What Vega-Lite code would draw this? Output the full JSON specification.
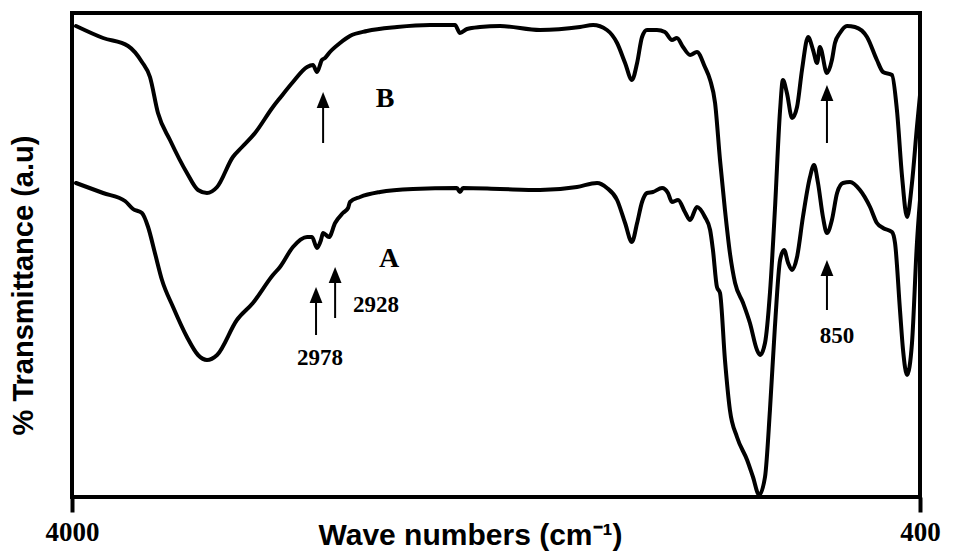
{
  "$schema": "https://vega.github.io/schema/vega-lite/v6.json",
  "width": 848,
  "height": 484,
  "autosize": {"type": "none"},
  "padding": {"left": 72, "top": 13, "right": 33, "bottom": 59},
  "background": "white",
  "config": {"view": {"stroke": "black", "strokeWidth": 4}, "axis": {"grid": false}},
  "datasets": {
    "spectra": [
      {"series":"B","wn":3983,"t":471},{"series":"B","wn":3868,"t":459},{"series":"B","wn":3762,"t":451},{"series":"B","wn":3703,"t":435},{"series":"B","wn":3669,"t":420},{"series":"B","wn":3635,"t":384},{"series":"B","wn":3584,"t":357},{"series":"B","wn":3512,"t":324},{"series":"B","wn":3465,"t":307},{"series":"B","wn":3427,"t":304},{"series":"B","wn":3384,"t":310},{"series":"B","wn":3317,"t":340},{"series":"B","wn":3278,"t":350},{"series":"B","wn":3223,"t":364},{"series":"B","wn":3147,"t":390},{"series":"B","wn":3117,"t":399},{"series":"B","wn":3062,"t":415},{"series":"B","wn":3002,"t":430},{"series":"B","wn":2977,"t":432},{"series":"B","wn":2960,"t":425},{"series":"B","wn":2939,"t":437},{"series":"B","wn":2926,"t":439},{"series":"B","wn":2905,"t":445},{"series":"B","wn":2862,"t":454},{"series":"B","wn":2820,"t":461},{"series":"B","wn":2748,"t":466},{"series":"B","wn":2620,"t":470},{"series":"B","wn":2480,"t":472},{"series":"B","wn":2374,"t":472},{"series":"B","wn":2353,"t":464},{"series":"B","wn":2323,"t":468},{"series":"B","wn":2268,"t":470},{"series":"B","wn":2183,"t":471},{"series":"B","wn":2013,"t":467},{"series":"B","wn":1843,"t":470},{"series":"B","wn":1788,"t":472},{"series":"B","wn":1729,"t":467},{"series":"B","wn":1686,"t":454},{"series":"B","wn":1652,"t":434},{"series":"B","wn":1623,"t":417},{"series":"B","wn":1601,"t":434},{"series":"B","wn":1580,"t":460},{"series":"B","wn":1559,"t":467},{"series":"B","wn":1517,"t":467},{"series":"B","wn":1483,"t":465},{"series":"B","wn":1453,"t":457},{"series":"B","wn":1432,"t":459},{"series":"B","wn":1406,"t":450},{"series":"B","wn":1376,"t":442},{"series":"B","wn":1347,"t":445},{"series":"B","wn":1313,"t":430},{"series":"B","wn":1291,"t":417},{"series":"B","wn":1270,"t":394},{"series":"B","wn":1249,"t":337},{"series":"B","wn":1228,"t":287},{"series":"B","wn":1207,"t":244},{"series":"B","wn":1185,"t":214},{"series":"B","wn":1151,"t":194},{"series":"B","wn":1122,"t":174},{"series":"B","wn":1092,"t":147},{"series":"B","wn":1079,"t":142},{"series":"B","wn":1058,"t":154},{"series":"B","wn":1037,"t":204},{"series":"B","wn":1016,"t":287},{"series":"B","wn":994,"t":387},{"series":"B","wn":982,"t":417},{"series":"B","wn":965,"t":404},{"series":"B","wn":943,"t":379},{"series":"B","wn":922,"t":390},{"series":"B","wn":901,"t":427},{"series":"B","wn":875,"t":460},{"series":"B","wn":854,"t":447},{"series":"B","wn":837,"t":434},{"series":"B","wn":825,"t":450},{"series":"B","wn":795,"t":424},{"series":"B","wn":774,"t":437},{"series":"B","wn":761,"t":454},{"series":"B","wn":740,"t":464},{"series":"B","wn":710,"t":471},{"series":"B","wn":676,"t":470},{"series":"B","wn":625,"t":460},{"series":"B","wn":583,"t":437},{"series":"B","wn":557,"t":425},{"series":"B","wn":519,"t":422},{"series":"B","wn":498,"t":387},{"series":"B","wn":476,"t":320},{"series":"B","wn":455,"t":280},{"series":"B","wn":434,"t":314},{"series":"B","wn":413,"t":370},{"series":"B","wn":400,"t":402},
      {"series":"A","wn":3983,"t":314},{"series":"A","wn":3868,"t":304},{"series":"A","wn":3775,"t":296},{"series":"A","wn":3741,"t":288},{"series":"A","wn":3703,"t":284},{"series":"A","wn":3677,"t":270},{"series":"A","wn":3648,"t":244},{"series":"A","wn":3618,"t":217},{"series":"A","wn":3571,"t":190},{"series":"A","wn":3512,"t":160},{"series":"A","wn":3465,"t":142},{"series":"A","wn":3427,"t":137},{"series":"A","wn":3384,"t":142},{"series":"A","wn":3300,"t":177},{"series":"A","wn":3232,"t":194},{"series":"A","wn":3147,"t":222},{"series":"A","wn":3117,"t":230},{"series":"A","wn":3062,"t":250},{"series":"A","wn":3002,"t":260},{"series":"A","wn":2981,"t":260},{"series":"A","wn":2960,"t":249},{"series":"A","wn":2943,"t":257},{"series":"A","wn":2934,"t":264},{"series":"A","wn":2909,"t":260},{"series":"A","wn":2883,"t":274},{"series":"A","wn":2850,"t":284},{"series":"A","wn":2828,"t":289},{"series":"A","wn":2820,"t":295},{"series":"A","wn":2777,"t":300},{"series":"A","wn":2692,"t":305},{"series":"A","wn":2552,"t":308},{"series":"A","wn":2366,"t":309},{"series":"A","wn":2353,"t":305},{"series":"A","wn":2340,"t":309},{"series":"A","wn":2183,"t":308},{"series":"A","wn":2013,"t":307},{"series":"A","wn":1856,"t":310},{"series":"A","wn":1771,"t":314},{"series":"A","wn":1729,"t":309},{"series":"A","wn":1686,"t":297},{"series":"A","wn":1652,"t":274},{"series":"A","wn":1623,"t":255},{"series":"A","wn":1601,"t":274},{"series":"A","wn":1580,"t":295},{"series":"A","wn":1559,"t":304},{"series":"A","wn":1534,"t":305},{"series":"A","wn":1495,"t":309},{"series":"A","wn":1470,"t":304},{"series":"A","wn":1453,"t":295},{"series":"A","wn":1427,"t":297},{"series":"A","wn":1398,"t":285},{"series":"A","wn":1376,"t":277},{"series":"A","wn":1347,"t":290},{"series":"A","wn":1313,"t":280},{"series":"A","wn":1291,"t":267},{"series":"A","wn":1279,"t":247},{"series":"A","wn":1262,"t":210},{"series":"A","wn":1249,"t":204},{"series":"A","wn":1228,"t":137},{"series":"A","wn":1207,"t":87},{"series":"A","wn":1177,"t":60},{"series":"A","wn":1134,"t":37},{"series":"A","wn":1109,"t":20},{"series":"A","wn":1083,"t":2},{"series":"A","wn":1058,"t":20},{"series":"A","wn":1037,"t":87},{"series":"A","wn":1016,"t":170},{"series":"A","wn":994,"t":237},{"series":"A","wn":977,"t":247},{"series":"A","wn":960,"t":234},{"series":"A","wn":943,"t":227},{"series":"A","wn":922,"t":240},{"series":"A","wn":897,"t":280},{"series":"A","wn":867,"t":320},{"series":"A","wn":850,"t":332},{"series":"A","wn":833,"t":314},{"series":"A","wn":812,"t":280},{"series":"A","wn":795,"t":264},{"series":"A","wn":774,"t":277},{"series":"A","wn":752,"t":304},{"series":"A","wn":727,"t":314},{"series":"A","wn":697,"t":315},{"series":"A","wn":655,"t":307},{"series":"A","wn":612,"t":290},{"series":"A","wn":583,"t":274},{"series":"A","wn":557,"t":269},{"series":"A","wn":519,"t":265},{"series":"A","wn":506,"t":254},{"series":"A","wn":485,"t":187},{"series":"A","wn":472,"t":147},{"series":"A","wn":455,"t":122},{"series":"A","wn":434,"t":154},{"series":"A","wn":413,"t":254},{"series":"A","wn":400,"t":297}
    ],
    "arrows": [
      {"wn": 2934, "tail": 354, "tip": 405},
      {"wn": 2964, "tail": 162, "tip": 210},
      {"wn": 2883, "tail": 179, "tip": 230},
      {"wn": 795, "tail": 354, "tip": 412},
      {"wn": 795, "tail": 187, "tip": 237}
    ],
    "letters": [
      {"wn": 2671, "t": 390, "label": "B"},
      {"wn": 2654, "t": 230, "label": "A"}
    ],
    "numbers": [
      {"wn": 2709, "t": 185, "label": "2928"},
      {"wn": 2947, "t": 132, "label": "2978"},
      {"wn": 752, "t": 154, "label": "850"}
    ]
  },
  "layer": [
    {
      "data": {"name": "spectra"},
      "mark": {"type": "line", "color": "black", "strokeWidth": 4, "interpolate": "monotone", "strokeJoin": "round", "strokeCap": "round"},
      "encoding": {
        "x": {
          "field": "wn", "type": "quantitative",
          "scale": {"domain": [4000, 400], "nice": false, "zero": false},
          "axis": {
            "values": [4000, 400], "format": "d", "domain": false,
            "tickSize": 15, "tickWidth": 4, "tickColor": "black",
            "labelFont": "Liberation Serif", "labelFontWeight": "bold", "labelFontSize": 27, "labelColor": "black",
            "labelPadding": 7, "labelFlush": false, "labelOverlap": false,
            "title": "Wave numbers (cm⁻¹)", "titleFont": "Liberation Sans", "titleFontWeight": "bold", "titleFontSize": 30, "titleColor": "black",
            "titleX": 398, "titleY": 47, "titleAlign": "center", "titleBaseline": "alphabetic"
          }
        },
        "y": {
          "field": "t", "type": "quantitative",
          "scale": {"domain": [0, 484], "nice": false, "zero": false},
          "axis": {
            "domain": false, "ticks": false, "labels": false,
            "title": "% Transmittance (a.u)", "titleFont": "Liberation Sans", "titleFontWeight": "bold", "titleFontSize": 29, "titleColor": "black",
            "titleX": -49, "titleY": 272, "titleAngle": -90, "titleAlign": "center", "titleBaseline": "middle"
          }
        },
        "detail": {"field": "series"},
        "order": {"field": "wn", "sort": "descending"}
      }
    },
    {
      "data": {"name": "arrows"},
      "mark": {"type": "rule", "color": "black", "strokeWidth": 2, "y2Offset": 8},
      "encoding": {
        "x": {"field": "wn", "type": "quantitative"},
        "y": {"field": "tail", "type": "quantitative"},
        "y2": {"field": "tip"}
      }
    },
    {
      "data": {"name": "arrows"},
      "mark": {"type": "point", "shape": "M0,-1L0.8,1L-0.8,1Z", "filled": true, "color": "black", "opacity": 1, "size": 256, "yOffset": 8},
      "encoding": {
        "x": {"field": "wn", "type": "quantitative"},
        "y": {"field": "tip", "type": "quantitative"}
      }
    },
    {
      "data": {"name": "letters"},
      "mark": {"type": "text", "font": "Liberation Serif", "fontWeight": "bold", "fontSize": 28, "color": "black", "align": "center", "baseline": "alphabetic"},
      "encoding": {
        "x": {"field": "wn", "type": "quantitative"},
        "y": {"field": "t", "type": "quantitative"},
        "text": {"field": "label"}
      }
    },
    {
      "data": {"name": "numbers"},
      "mark": {"type": "text", "font": "Liberation Serif", "fontWeight": "bold", "fontSize": 23, "color": "black", "align": "center", "baseline": "alphabetic"},
      "encoding": {
        "x": {"field": "wn", "type": "quantitative"},
        "y": {"field": "t", "type": "quantitative"},
        "text": {"field": "label"}
      }
    }
  ]
}
